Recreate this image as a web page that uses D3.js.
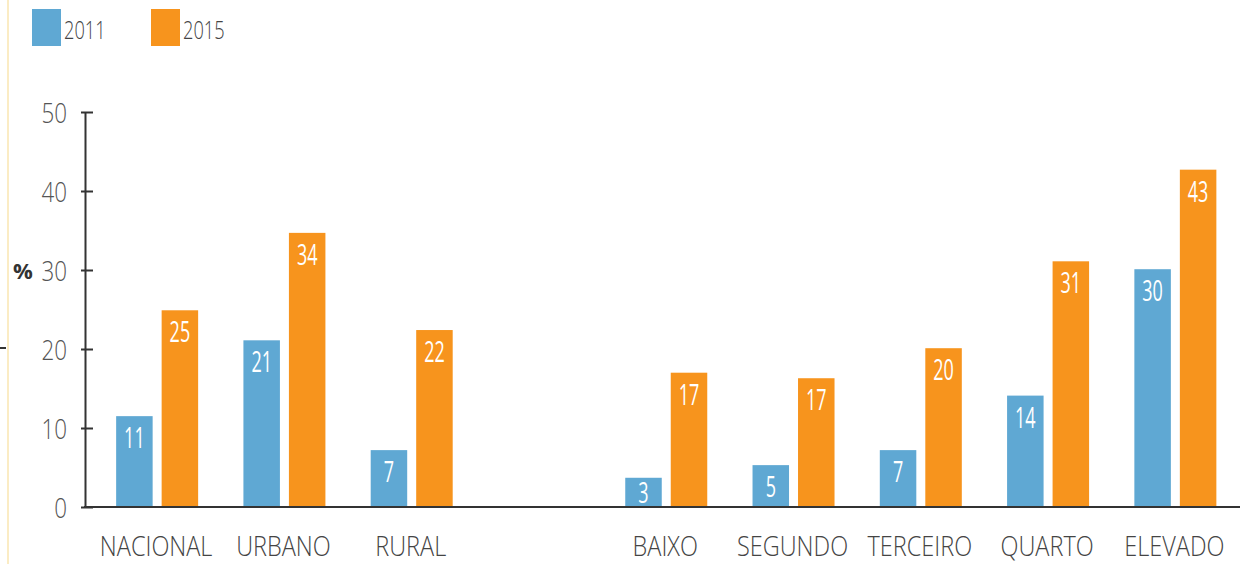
<html>
<head>
<style>
  body { margin: 0; background: white; }
  text { font-family: "Open Sans", "DejaVu Sans", sans-serif; font-weight: 300; }
</style>
</head>
<body>
<svg width="1246" height="564"></svg>
<script src="https://d3js.org/d3.v7.min.js"></script>
<script>
// categories ("" is the gap between area and quintile groups)
var slots = ['NACIONAL', 'URBANO', 'RURAL', '', 'BAIXO', 'SEGUNDO', 'TERCEIRO', 'QUARTO', 'ELEVADO'];
var categories = ['NACIONAL', 'URBANO', 'RURAL', 'BAIXO', 'SEGUNDO', 'TERCEIRO', 'QUARTO', 'ELEVADO'];
var series = ['2011', '2015'];
var values2011 = [11.5, 21.1, 7.2, 3.7, 5.3, 7.2, 14.1, 30.1];
var values2015 = [24.9, 34.7, 22.4, 17, 16.3, 20.1, 31.1, 42.7];
var labels2011 = [11, 21, 7, 3, 5, 7, 14, 30];
var labels2015 = [25, 34, 22, 17, 17, 20, 31, 43];
var yTicks = [0, 10, 20, 30, 40, 50];
var colors = ['#5fa8d3', '#f7941d'];

var svg = d3.select('svg');

// squash text horizontally (the original uses a condensed face)
function squeeze(sel, sx) {
  sel.each(function () {
    var t = d3.select(this);
    var tx = +t.attr('x') || 0, ty = +t.attr('y') || 0;
    t.attr('x', 0).attr('y', 0)
      .attr('transform', 'translate(' + tx + ',' + ty + ') scale(' + sx + ',1)');
  });
}

// faint frame line on the left
svg.append('line').attr('x1', 8).attr('x2', 8).attr('y1', 0).attr('y2', 564)
  .attr('stroke', '#fbecc4').attr('stroke-width', 2);
svg.append('line').attr('x1', 0).attr('x2', 6).attr('y1', 348).attr('y2', 348)
  .attr('stroke', '#333').attr('stroke-width', 2);

var x = d3.scaleBand().domain(slots).range([93.5, 1239]).paddingInner(0).paddingOuter(0);
var y = d3.scaleLinear().domain([0, 50]).range([507, 112]);
var barW = 36.5, gap = 9;

// y axis
var yAxis = svg.append('g').attr('transform', 'translate(85,0)')
  .call(d3.axisLeft(y).tickValues(yTicks).tickSize(4).tickSizeOuter(0));
yAxis.select('.domain').attr('stroke', '#333').attr('stroke-width', 2);
yAxis.selectAll('.tick line').attr('stroke', '#333').attr('stroke-width', 2).attr('x2', 8).attr('x1', -4);
yAxis.selectAll('.tick text').attr('x', -18).attr('y', 10).attr('dy', null)
  .attr('font-size', 28).attr('fill', '#555').call(squeeze, 0.8);
svg.append('text').attr('x', 13).attr('y', 279).attr('font-size', 22)
  .style('font-weight', 700).attr('fill', '#333').text('%');

// bars
var data = [];
categories.forEach(function (c, i) {
  data.push({ cat: c, s: 0, v: values2011[i], lab: labels2011[i] });
  data.push({ cat: c, s: 1, v: values2015[i], lab: labels2015[i] });
});
function bx(d) {
  var c = x(d.cat) + x.bandwidth() / 2;
  return d.s === 0 ? c - gap / 2 - barW : c + gap / 2;
}
svg.selectAll('rect.bar').data(data).enter().append('rect')
  .attr('class', 'bar')
  .attr('x', bx).attr('width', barW)
  .attr('y', function (d) { return y(d.v); })
  .attr('height', function (d) { return y(0) - y(d.v); })
  .attr('fill', function (d) { return colors[d.s]; });
svg.selectAll('text.val').data(data).enter().append('text')
  .attr('class', 'val')
  .attr('x', function (d) { return bx(d) + barW / 2; })
  .attr('y', function (d) { return Math.min(y(d.v) + 32, y(0) - 4); })
  .attr('text-anchor', 'middle').attr('font-size', 30).attr('fill', 'white')
  .style('font-weight', 400)
  .text(function (d) { return d.lab; })
  .call(squeeze, 0.6);

// x axis
var xAxis = svg.append('g').attr('transform', 'translate(0,507)')
  .call(d3.axisBottom(x).tickSize(0).tickSizeOuter(0));
xAxis.select('.domain').attr('d', 'M84,0H1240').attr('stroke', '#333').attr('stroke-width', 2);
xAxis.selectAll('.tick text').attr('x', -1).attr('y', 49).attr('dy', null)
  .attr('font-size', 27).attr('fill', '#444').call(squeeze, 0.87);

// legend
var leg = svg.selectAll('g.leg').data(series).enter().append('g')
  .attr('class', 'leg')
  .attr('transform', function (d, i) { return 'translate(' + (32 + i * 119) + ',9)'; });
leg.append('rect').attr('width', 29).attr('height', 37)
  .attr('fill', function (d, i) { return colors[i]; });
leg.append('text').attr('x', 32).attr('y', 30).attr('font-size', 26).attr('fill', '#444')
  .text(function (d) { return d; })
  .call(squeeze, 0.7);
</script>
</body>
</html>
